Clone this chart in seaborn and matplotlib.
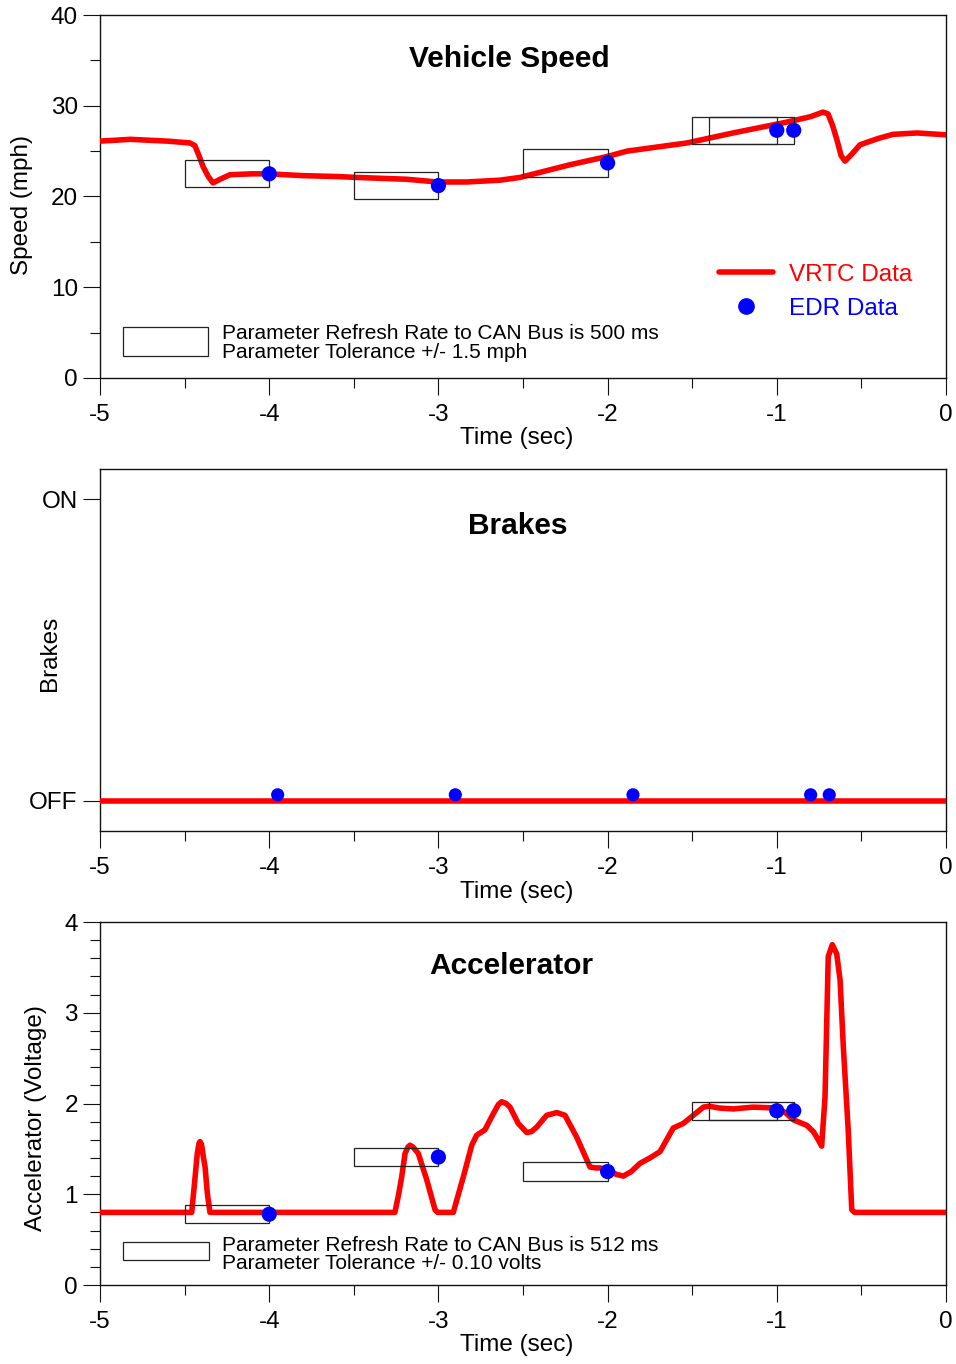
import numpy as np
import pandas as pd
import matplotlib
matplotlib.use("Agg")
import matplotlib.pyplot as plt
import seaborn as sns
from matplotlib.patches import Rectangle
from matplotlib.lines import Line2D
from matplotlib.ticker import MultipleLocator

# ---------------- data ----------------
speed_t = [-5.0, -4.82, -4.60, -4.468, -4.439, -4.415, -4.391, -4.36, -4.332, -4.29,
           -4.232, -4.10, -4.013, -3.80, -3.60, -3.481, -3.186, -3.008, -2.831, -2.636,
           -2.518, -2.222, -2.004, -1.885, -1.531, -1.259, -0.94, -0.80, -0.727, -0.697,
           -0.670, -0.644, -0.620, -0.597, -0.56, -0.508, -0.40, -0.313, -0.171, 0.0]
speed_v = [26.1, 26.3, 26.1, 25.9, 25.6, 24.5, 23.3, 22.2, 21.5, 21.9,
           22.4, 22.5, 22.5, 22.3, 22.2, 22.1, 21.9, 21.6, 21.6, 21.8,
           22.1, 23.5, 24.4, 25.0, 25.9, 27.0, 28.2, 28.8, 29.3, 29.1,
           27.8, 26.2, 24.5, 23.9, 24.6, 25.7, 26.4, 26.85, 27.0, 26.8]
edr_speed_t = [-4.0, -3.0, -2.0, -1.0, -0.9]
edr_speed_v = [22.5, 21.2, 23.7, 27.3, 27.3]

brake_t = [-5.0, 0.0]
brake_v = [0.0, 0.0]
edr_brake_t = [-3.95, -2.90, -1.85, -0.80, -0.69]
edr_brake_v = [0.02, 0.02, 0.02, 0.02, 0.02]

accel_t = [-5.0, -4.458, -4.44, -4.425, -4.415, -4.409, -4.40, -4.39, -4.379, -4.365,
           -4.35, -3.257, -3.235, -3.217, -3.197, -3.18, -3.168, -3.15, -3.119, -3.069,
           -3.020, -3.005, -2.912, -2.853, -2.803, -2.774, -2.725, -2.675, -2.645, -2.626,
           -2.60, -2.577, -2.528, -2.478, -2.45, -2.419, -2.36, -2.30, -2.252, -2.183,
           -2.104, -2.07, -2.045, -1.996, -1.95, -1.907, -1.86, -1.809, -1.75, -1.690,
           -1.612, -1.553, -1.50, -1.434, -1.40, -1.34, -1.257, -1.20, -1.139, -1.07,
           -1.001, -0.95, -0.902, -0.823, -0.784, -0.755, -0.735, -0.715, -0.696, -0.672,
           -0.646, -0.626, -0.607, -0.578, -0.557, -0.54, 0.0]
accel_v = [0.80, 0.80, 1.15, 1.45, 1.56, 1.58, 1.55, 1.42, 1.30, 1.00,
           0.80, 0.80, 1.00, 1.19, 1.45, 1.52, 1.54, 1.52, 1.45, 1.16,
           0.83, 0.80, 0.80, 1.19, 1.54, 1.65, 1.71, 1.89, 1.99, 2.02,
           2.00, 1.96, 1.78, 1.68, 1.69, 1.74, 1.87, 1.90, 1.87, 1.63,
           1.30, 1.29, 1.29, 1.27, 1.22, 1.20, 1.25, 1.34, 1.40, 1.47,
           1.73, 1.78, 1.86, 1.96, 1.97, 1.95, 1.94, 1.95, 1.96, 1.955,
           1.95, 1.90, 1.82, 1.76, 1.69, 1.60, 1.53, 2.07, 3.62, 3.75,
           3.65, 3.36, 2.63, 1.71, 0.83, 0.80, 0.80]
edr_accel_t = [-4.0, -3.0, -2.0, -1.0, -0.9]
edr_accel_v = [0.78, 1.41, 1.25, 1.92, 1.92]

speed_tol = 1.5
accel_tol = 0.10
refresh_window = 0.5

x_ticks = [-5, -4, -3, -2, -1, 0]
x_ticklabels = ["-5", "-4", "-3", "-2", "-1", "0"]
brake_ticks = [0, 1]
brake_ticklabels = ["OFF", "ON"]

# ---------------- style ----------------
sns.set_theme(style="ticks")
plt.rcParams["font.family"] = ["Liberation Sans", "DejaVu Sans"]
plt.rcParams["axes.linewidth"] = 1.0
plt.rcParams["axes.edgecolor"] = "#111111"
plt.rcParams["xtick.color"] = "#111111"
plt.rcParams["ytick.color"] = "#111111"
plt.rcParams["text.color"] = "black"
plt.rcParams["axes.labelcolor"] = "black"
plt.rcParams["xtick.labelcolor"] = "black"
plt.rcParams["ytick.labelcolor"] = "black"

FS = 17.5
W, H = 956, 1364
fig = plt.figure(figsize=(W / 100, H / 100), dpi=100)

def make_axes(top_px, bottom_px):
    return fig.add_axes([100 / W, 1 - bottom_px / H, 846 / W, (bottom_px - top_px) / H])

ax1 = make_axes(15, 378)
ax2 = make_axes(469, 831)
ax3 = make_axes(922, 1285)

RED = "#ff0000"
BLUE = "#0000ff"

def style_axes(ax):
    ax.set_xlim(-5, 0)
    ax.set_xticks(x_ticks)
    ax.set_xticklabels(x_ticklabels)
    ax.xaxis.set_minor_locator(MultipleLocator(0.5))
    for s in ax.spines.values():
        s.set_visible(True)
        s.set_linewidth(1.0)
        s.set_color("#111111")
    ax.tick_params(axis="both", which="major", direction="out", length=12,
                   width=0.8, labelsize=FS, labelcolor="black")
    ax.tick_params(axis="x", which="major", pad=6.5)
    ax.tick_params(axis="y", which="major", pad=4)
    ax.tick_params(axis="both", which="minor", direction="out", length=7, width=0.8)
    ax.set_xlabel("Time (sec)", fontsize=FS, va="center", color="black")
    ax.xaxis.set_label_coords(0.4923, -0.166)
    ax.grid(False)

# ---------------- Vehicle speed ----------------
sns.lineplot(x=speed_t, y=speed_v, ax=ax1, color=RED, lw=4, estimator=None, zorder=3)
for t, v in zip(edr_speed_t, edr_speed_v):
    ax1.add_patch(Rectangle((t - refresh_window, v - speed_tol), refresh_window, 2 * speed_tol,
                            fill=False, edgecolor="#222222", lw=0.9, zorder=4))
sns.scatterplot(x=edr_speed_t, y=edr_speed_v, ax=ax1, color=BLUE, s=120,
                edgecolor="none", zorder=5)
style_axes(ax1)
ax1.set_ylim(0, 40)
ax1.set_yticks([0, 10, 20, 30, 40])
ax1.yaxis.set_minor_locator(MultipleLocator(5))
ax1.set_ylabel("Speed (mph)", fontsize=FS, va="center", color="black")
ax1.yaxis.set_label_coords(-0.0922, 0.4766)
ax1.text(0.484, 0.8576, "Vehicle Speed", transform=ax1.transAxes, ha="center",
         va="baseline", fontsize=21.5, fontweight="bold", color="black")
ax1.add_patch(Rectangle((-4.864, 2.42), 0.502, 3.2, fill=False, edgecolor="#222222",
                        lw=0.9, zorder=4))
ax1.text(-4.279, 4.85, "Parameter Refresh Rate to CAN Bus is 500 ms", fontsize=15,
         ha="left", va="center", color="black")
ax1.text(-4.279, 2.86, "Parameter Tolerance +/- 1.5 mph", fontsize=15,
         ha="left", va="center", color="black")
handles = [Line2D([], [], color=RED, lw=4),
           Line2D([], [], color=BLUE, marker="o", ls="none", markersize=11)]
ax1.legend(handles, ["VRTC Data", "EDR Data"], loc="center left",
           bbox_to_anchor=(0.7317, 0.238), frameon=False, fontsize=FS,
           labelcolor=[RED, BLUE], handlelength=2.22, handletextpad=0.66,
           labelspacing=0.5, borderpad=0, borderaxespad=0)

# ---------------- Brakes ----------------
sns.lineplot(x=brake_t, y=brake_v, ax=ax2, color=RED, lw=4, estimator=None, zorder=3)
sns.scatterplot(x=edr_brake_t, y=edr_brake_v, ax=ax2, color=BLUE, s=90,
                edgecolor="none", zorder=5)
style_axes(ax2)
ax2.set_ylim(-0.1, 1.1)
ax2.set_yticks(brake_ticks)
ax2.set_yticklabels(brake_ticklabels)
ax2.set_ylabel("Brakes", fontsize=FS, va="center", color="black")
ax2.yaxis.set_label_coords(-0.059, 0.49)
ax2.text(0.4935, 0.8197, "Brakes", transform=ax2.transAxes, ha="center",
         va="baseline", fontsize=21.5, fontweight="bold", color="black")
ax2.xaxis.set_label_coords(0.4923, -0.1685)

# ---------------- Accelerator ----------------
sns.lineplot(x=accel_t, y=accel_v, ax=ax3, color=RED, lw=4, estimator=None, zorder=3)
for t, v in zip(edr_accel_t, edr_accel_v):
    ax3.add_patch(Rectangle((t - refresh_window, v - accel_tol), refresh_window, 2 * accel_tol,
                            fill=False, edgecolor="#222222", lw=0.9, zorder=4))
sns.scatterplot(x=edr_accel_t, y=edr_accel_v, ax=ax3, color=BLUE, s=120,
                edgecolor="none", zorder=5)
style_axes(ax3)
ax3.set_ylim(0, 4)
ax3.set_yticks([0, 1, 2, 3, 4])
ax3.yaxis.set_minor_locator(MultipleLocator(0.2))
ax3.set_ylabel("Accelerator (Voltage)", fontsize=FS, va="center", color="black")
ax3.yaxis.set_label_coords(-0.0757, 0.461)
ax3.text(0.4864, 0.8576, "Accelerator", transform=ax3.transAxes, ha="center",
         va="baseline", fontsize=21.5, fontweight="bold", color="black")
ax3.add_patch(Rectangle((-4.864, 0.275), 0.508, 0.199, fill=False, edgecolor="#222222",
                        lw=0.9, zorder=4))
ax3.text(-4.279, 0.44, "Parameter Refresh Rate to CAN Bus is 512 ms", fontsize=15,
         ha="left", va="center", color="black")
ax3.text(-4.279, 0.242, "Parameter Tolerance +/- 0.10 volts", fontsize=15,
         ha="left", va="center", color="black")

fig.savefig("out.png", dpi=100)
